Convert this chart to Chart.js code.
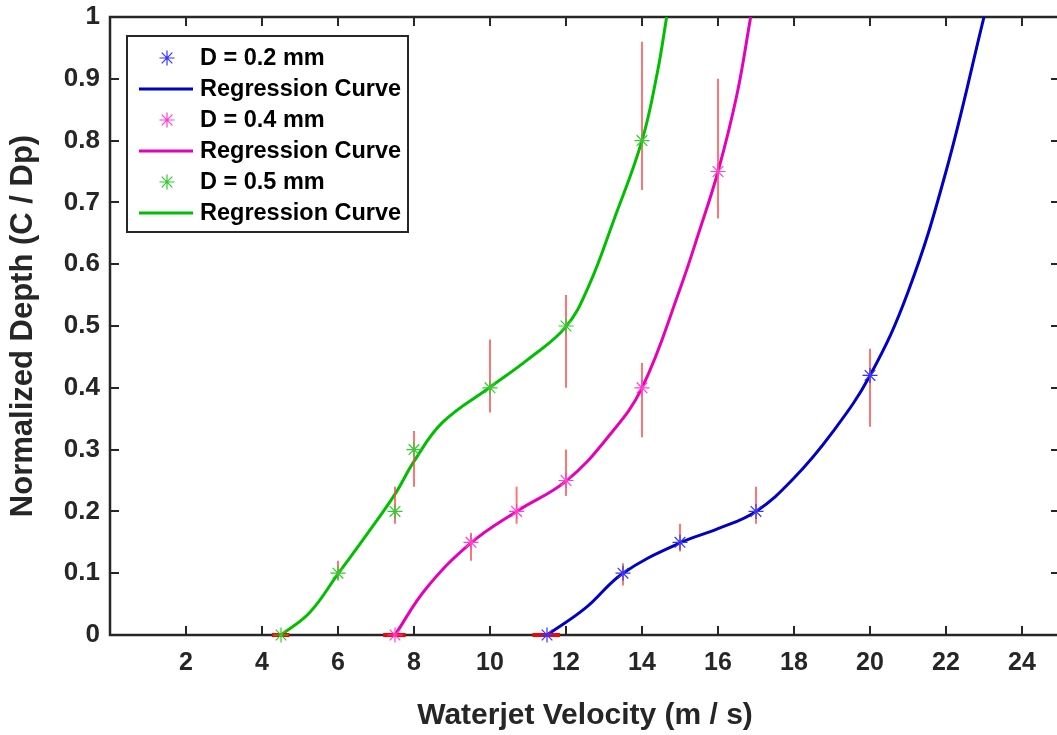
<!DOCTYPE html>
<html>
<head>
<meta charset="utf-8">
<script src="https://cdn.jsdelivr.net/npm/chart.js@4/dist/chart.umd.min.js"></script>
<style>
html,body{margin:0;padding:0;background:#fff;overflow:hidden;}
#wrap{width:1062px;height:735px;}
</style>
</head>
<body>
<div id="wrap"><canvas id="c" width="1062" height="735"></canvas></div>
<script>
// ---- data ----
const xTickValues = [2, 4, 6, 8, 10, 12, 14, 16, 18, 20, 22, 24];
const yTickValues = [0, 0.1, 0.2, 0.3, 0.4, 0.5, 0.6, 0.7, 0.8, 0.9, 1];

const d02X  = [11.5, 13.5, 15, 17, 20];
const d02Y  = [0, 0.10, 0.15, 0.20, 0.42];
const d02Lo = [0, 0.08, 0.135, 0.18, 0.337];
const d02Hi = [0, 0.116, 0.18, 0.24, 0.463];

const d04X  = [7.5, 9.5, 10.7, 12, 14, 16];
const d04Y  = [0, 0.15, 0.20, 0.25, 0.40, 0.75];
const d04Lo = [0, 0.12, 0.18, 0.225, 0.32, 0.674];
const d04Hi = [0, 0.165, 0.24, 0.30, 0.44, 0.90];

const d05X  = [4.5, 6, 7.5, 8, 10, 12, 14];
const d05Y  = [0, 0.10, 0.20, 0.30, 0.40, 0.50, 0.80];
const d05Lo = [0, 0.09, 0.18, 0.24, 0.36, 0.40, 0.72];
const d05Hi = [0, 0.12, 0.24, 0.33, 0.478, 0.55, 0.96];

// regression curves
const curve02X = [11.5, 12.5, 13.5, 15, 16, 17, 18, 19, 20, 21, 22, 23];
const curve02Y = [0, 0.043, 0.10, 0.149, 0.172, 0.20, 0.254, 0.327, 0.42, 0.555, 0.75, 1.0];
const curve04X = [7.5, 8.33, 9.5, 10.7, 12, 13.1, 14, 15, 15.5, 16, 16.5, 16.86];
const curve04Y = [0, 0.076, 0.149, 0.20, 0.249, 0.32, 0.40, 0.56, 0.652, 0.75, 0.875, 1.0];
const curve05X = [4.5, 5.25, 6, 6.75, 7.5, 8, 8.75, 10, 11, 12, 12.6, 13.25, 14, 14.4, 14.65];
const curve05Y = [0, 0.036, 0.099, 0.162, 0.228, 0.281, 0.344, 0.401, 0.446, 0.499, 0.565, 0.67, 0.80, 0.909, 1.0];

// red bars lying on the zero line
const zeroBarLeft  = [11.12, 7.19, 4.26];
const zeroBarRight = [11.84, 7.78, 4.72];

const legendLabels = ['D = 0.2 mm', 'Regression Curve', 'D = 0.4 mm', 'Regression Curve', 'D = 0.5 mm', 'Regression Curve'];

// ---- helpers building library data from the arrays ----
const pts = (xs, ys) => xs.map((x, i) => ({x: x, y: ys[i]}));
function errSegs(xs, lo, hi) {
  const out = [];
  xs.forEach((x, i) => {
    if (hi[i] > lo[i]) { out.push({x: x, y: lo[i]}, {x: x, y: hi[i]}, {x: x, y: null}); }
  });
  return out;
}
function zeroSegs() {
  const out = [];
  zeroBarLeft.forEach((l, i) => { out.push({x: l, y: 0}, {x: zeroBarRight[i], y: 0}, {x: zeroBarRight[i], y: null}); });
  return out;
}

const FONT = "'Liberation Sans', Arial, Helvetica, sans-serif";
const INK = '#262626';

const colors = {
  m02: '#3333ff', c02: '#0000c8',
  m04: '#ff3fd0', c04: '#e600b8',
  m05: '#2ecc2e', c05: '#00bf00'
};

const markerDs = (label, data, color) => ({
  label, data, showLine: false, pointStyle: 'star', pointRadius: 7.5, pointHoverRadius: 7.5,
  pointBorderWidth: 1.2, borderColor: color, backgroundColor: color, order: 0, clip: false
});
const curveDs = (label, data, color) => ({
  label, data, showLine: true, pointRadius: 0, borderWidth: 3, borderColor: color,
  tension: 0.4, order: 2, fill: false
});

const datasets = [
  markerDs('D = 0.2 mm', pts(d02X, d02Y), colors.m02),
  curveDs('Regression Curve', pts(curve02X, curve02Y), colors.c02),
  markerDs('D = 0.4 mm', pts(d04X, d04Y), colors.m04),
  curveDs('Regression Curve', pts(curve04X, curve04Y), colors.c04),
  markerDs('D = 0.5 mm', pts(d05X, d05Y), colors.m05),
  curveDs('Regression Curve', pts(curve05X, curve05Y), colors.c05),
  {label: 'err', data: [].concat(errSegs(d02X, d02Lo, d02Hi), errSegs(d04X, d04Lo, d04Hi), errSegs(d05X, d05Lo, d05Hi)),
   showLine: true, spanGaps: false, pointRadius: 0, borderWidth: 2, borderColor: 'rgba(255,70,70,0.75)', order: 1, tension: 0},
  {label: 'zero', data: zeroSegs(), showLine: true, spanGaps: false, pointRadius: 0, borderWidth: 4,
   borderColor: '#ff0000', order: 1, tension: 0, clip: false}
];

const framePlugin = {
  id: 'frame',
  beforeDatasetsDraw(chart) {
    const {ctx, chartArea: a} = chart;
    const x = chart.scales.x, y = chart.scales.y;
    ctx.save();
    ctx.strokeStyle = INK;
    ctx.lineWidth = 2;
    ctx.beginPath();
    x.ticks.forEach(t => {
      const px = Math.round(x.getPixelForValue(t.value));
      ctx.moveTo(px, a.bottom); ctx.lineTo(px, a.bottom - 9);
      ctx.moveTo(px, a.top); ctx.lineTo(px, a.top + 9);
    });
    y.ticks.forEach(t => {
      if (t.value <= 0 || t.value >= 1) return;
      const py = Math.round(y.getPixelForValue(t.value));
      ctx.moveTo(a.left, py); ctx.lineTo(a.left + 9, py);
      ctx.moveTo(a.right, py); ctx.lineTo(a.right - 9, py);
    });
    ctx.stroke();
    ctx.lineWidth = 2.5;
    ctx.strokeRect(a.left, a.top, a.right - a.left, a.bottom - a.top);
    ctx.restore();
  }
};

function drawStar(ctx, cx, cy, r, color) {
  ctx.save();
  ctx.strokeStyle = color; ctx.lineWidth = 1.2;
  ctx.beginPath();
  ctx.moveTo(cx - r, cy); ctx.lineTo(cx + r, cy);
  ctx.moveTo(cx, cy - r); ctx.lineTo(cx, cy + r);
  const d = r * Math.SQRT1_2;
  ctx.moveTo(cx - d, cy - d); ctx.lineTo(cx + d, cy + d);
  ctx.moveTo(cx - d, cy + d); ctx.lineTo(cx + d, cy - d);
  ctx.stroke();
  ctx.restore();
}

const legendPlugin = {
  id: 'boxLegend',
  afterDraw(chart) {
    const ctx = chart.ctx;
    const bx = 127, by = 36, bw = 281, bh = 196;
    ctx.save();
    ctx.fillStyle = '#fff';
    ctx.fillRect(bx, by, bw, bh);
    ctx.strokeStyle = INK; ctx.lineWidth = 2;
    ctx.strokeRect(bx, by, bw, bh);
    ctx.font = "bold 23.5px " + FONT;
    ctx.textBaseline = 'middle';
    ctx.textAlign = 'left';
    legendLabels.forEach((lab, i) => {
      const ds = chart.data.datasets[i];
      const ry = 58 + i * 31;
      if (ds.showLine) {
        ctx.strokeStyle = ds.borderColor; ctx.lineWidth = 3;
        ctx.beginPath(); ctx.moveTo(139, ry); ctx.lineTo(193, ry); ctx.stroke();
      } else {
        drawStar(ctx, 167, ry, 7.5, ds.borderColor);
      }
      ctx.fillStyle = '#000';
      ctx.fillText(lab, 200, ry + 1);
    });
    ctx.restore();
  }
};

new Chart(document.getElementById('c'), {
  type: 'line',
  data: {datasets},
  options: {
    responsive: false,
    animation: false,
    devicePixelRatio: 1,
    layout: {autoPadding: false, padding: {top: 17, right: 2, left: 0, bottom: 0}},
    plugins: {legend: {display: false}, tooltip: {enabled: false}},
    scales: {
      x: {
        type: 'linear', min: 0, max: 25,
        afterBuildTicks(s) { s.ticks = xTickValues.map(v => ({value: v})); },
        afterFit(s) { s.height = 100; s.paddingLeft = 0; s.paddingRight = 0; },
        grid: {display: false, drawTicks: false},
        border: {display: false},
        ticks: {color: INK, font: {family: FONT, size: 25, weight: 'bold'}, padding: 13, maxRotation: 0,
                callback: v => String(v)},
        title: {display: true, text: 'Waterjet Velocity (m / s)', color: INK,
                font: {family: FONT, size: 30, weight: 'bold'}, padding: {top: 0, bottom: 1}}
      },
      y: {
        type: 'linear', min: 0, max: 1,
        afterBuildTicks(s) { s.ticks = yTickValues.map(v => ({value: v})); },
        afterFit(s) { s.width = 110; s.paddingTop = 0; s.paddingBottom = 0; },
        grid: {display: false, drawTicks: false},
        border: {display: false},
        ticks: {color: INK, font: {family: FONT, size: 26, weight: 'bold'}, padding: 10,
                callback: v => String(Math.round(v * 10) / 10)},
        title: {display: true, text: 'Normalized Depth (C / Dp)', color: INK,
                font: {family: FONT, size: 31, weight: 'bold'}, padding: {top: 5, bottom: 0}}
      }
    }
  },
  plugins: [framePlugin, legendPlugin]
});
</script>
</body>
</html>
